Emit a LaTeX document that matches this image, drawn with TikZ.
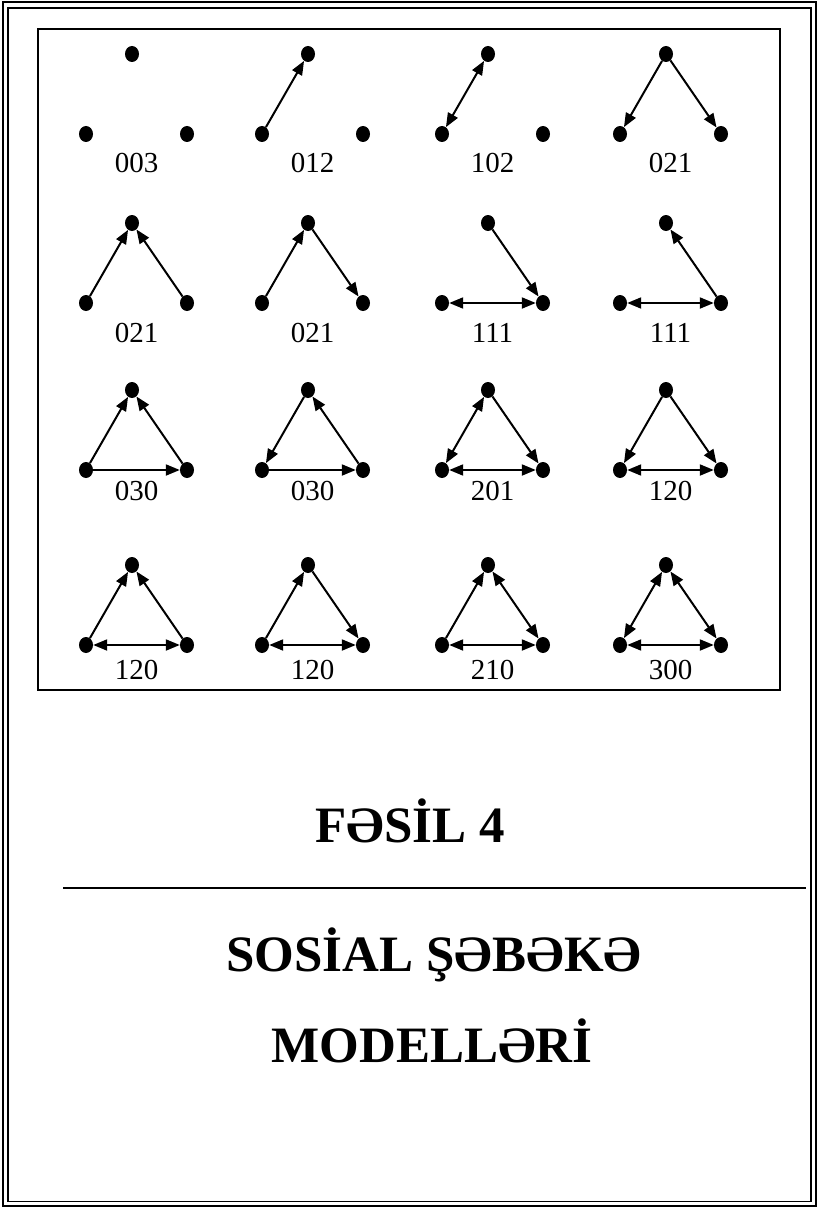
\documentclass[tikz,border=0pt]{standalone}
\usepackage{fontspec}
\setmainfont{Liberation Serif}
\usepackage{tikz}
\usetikzlibrary{arrows.meta}
\usetikzlibrary{calc}
\usetikzlibrary{positioning}

\tikzset{
  vtx/.style={ellipse, fill=black, inner sep=0pt, minimum width=14pt, minimum height=16pt},
  arr/.style={line width = 2pt, -{Triangle[length=14pt,width=11pt]}},
  arrb/.style={line width = 2pt, {Triangle[length=14pt,width=11pt]}-{Triangle[length=14pt,width=11pt]}},
  lbl/.style={inner sep=0pt, font=\fontsize{29}{32}\selectfont},
  ttl/.style={anchor=base, inner sep=0pt, font=\fontsize{51}{60}\selectfont\bfseries}
}
\usetikzlibrary{shapes.geometric}

\begin{document}
\begin{tikzpicture}[x=1pt, y=-1pt]
\useasboundingbox (0,0) rectangle (818,1209);
\draw[line width = 2pt] (2.5,2.5) rectangle (815.5,1206);
\draw[line width = 1.4pt] (8,8) rectangle (811,1201.5);
\draw[line width = 1.8pt] (38,29) rectangle (780,690);

\foreach \r/\yb in {1/134,2/303,3/470,4/645}{
  \foreach \c/\xl in {1/86,2/262,3/442,4/620}{
    \node[vtx] (l\r\c) at (\xl,\yb) {};
    \node[vtx] (r\r\c) at (\xl+101,\yb) {};
    \node[vtx] (t\r\c) at (\xl+46,\yb-80) {};
  }
}

\foreach \c/\lab in {1/003,2/012,3/102,4/021}
  \node[lbl] (n1\c) at ($(l1\c)!.5!(r1\c)+(0,29)$) {\lab};
\foreach \c/\lab in {1/021,2/021,3/111,4/111}
  \node[lbl] (n2\c) at ($(l2\c)!.5!(r2\c)+(0,30)$) {\lab};
\foreach \c/\lab in {1/030,2/030,3/201,4/120}
  \node[lbl] (n3\c) at ($(l3\c)!.5!(r3\c)+(0,21)$) {\lab};
\foreach \c/\lab in {1/120,2/120,3/210,4/300}
  \node[lbl] (n4\c) at ($(l4\c)!.5!(r4\c)+(0,25)$) {\lab};

\draw[arr] (l12) -- (t12);
\draw[arrb] (l13) -- (t13);
\draw[arr] (t14) -- (l14);
\draw[arr] (t14) -- (r14);

\draw[arr] (l21) -- (t21);
\draw[arr] (r21) -- (t21);
\draw[arr] (l22) -- (t22);
\draw[arr] (t22) -- (r22);
\draw[arr] (t23) -- (r23);
\draw[arrb] (l23) -- (r23);
\draw[arr] (r24) -- (t24);
\draw[arrb] (l24) -- (r24);

\draw[arr] (l31) -- (t31);
\draw[arr] (r31) -- (t31);
\draw[arr] (l31) -- (r31);
\draw[arr] (t32) -- (l32);
\draw[arr] (r32) -- (t32);
\draw[arr] (l32) -- (r32);
\draw[arrb] (l33) -- (t33);
\draw[arr] (t33) -- (r33);
\draw[arrb] (l33) -- (r33);
\draw[arr] (t34) -- (l34);
\draw[arr] (t34) -- (r34);
\draw[arrb] (l34) -- (r34);

\draw[arr] (l41) -- (t41);
\draw[arr] (r41) -- (t41);
\draw[arrb] (l41) -- (r41);
\draw[arr] (l42) -- (t42);
\draw[arr] (t42) -- (r42);
\draw[arrb] (l42) -- (r42);
\draw[arr] (l43) -- (t43);
\draw[arrb] (t43) -- (r43);
\draw[arrb] (l43) -- (r43);
\draw[arrb] (l44) -- (t44);
\draw[arrb] (t44) -- (r44);
\draw[arrb] (l44) -- (r44);

\node[ttl] (chap) at (410,842) {FƏSİL 4};
\coordinate (rulea) at (63,888);
\coordinate (ruleb) at (806,888);
\draw[line width = 1.8pt] (rulea) -- (ruleb);
\node[ttl] (head1) at (434,971) {SOSİAL ŞƏBƏKƏ};
\node[ttl] (head2) at (432,1062) {MODELLƏRİ};
\end{tikzpicture}
\end{document}
